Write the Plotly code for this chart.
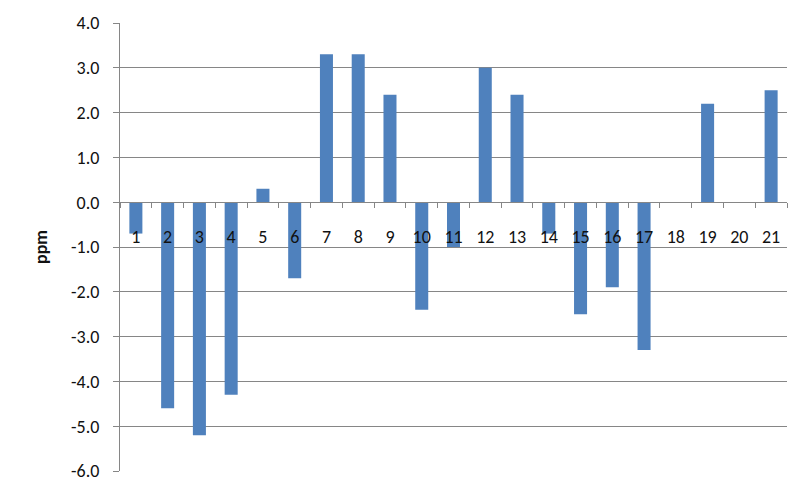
import plotly.graph_objects as go

# sample numbers and their deviation in ppm
samples = [str(i) for i in range(1, 22)]
ppm = [-0.7, -4.6, -5.2, -4.3, 0.3, -1.7, 3.3, 3.3, 2.4, -2.4, -1.0,
       3.0, 2.4, -0.7, -2.5, -1.9, -3.3, 0.0, 2.2, 0.0, 2.5]

y_ticks = [-6, -5, -4, -3, -2, -1, 0, 1, 2, 3, 4]
y_min, y_max = -6, 4

grid = '#868686'
font = 'Carlito, Lato, sans-serif'

fig = go.Figure(go.Bar(
    x=samples,
    y=ppm,
    marker=dict(color='#4F81BD', line=dict(width=0)),
))

fig.update_layout(
    width=812,
    height=495,
    margin=dict(l=120, r=25, t=23, b=24),
    plot_bgcolor='white',
    paper_bgcolor='white',
    showlegend=False,
    bargap=0.59,
    font=dict(family=font, size=18, color='#111111'),
    xaxis=dict(
        type='category',
        anchor='free',
        # axis crosses at y = 0
        position=(0 - y_min) / (y_max - y_min),
        automargin=False,
        showline=True,
        linecolor=grid,
        linewidth=1,
        ticks='outside',
        tickson='boundaries',
        ticklen=5,
        tickcolor=grid,
        ticklabelstandoff=18,
        showgrid=False,
        zeroline=False,
    ),
    yaxis=dict(
        range=[y_min, y_max],
        tickvals=y_ticks,
        # plain hyphen for negatives, as in the original
        ticktext=[f'{v:.1f}' for v in y_ticks],
        automargin=False,
        showline=True,
        linecolor=grid,
        ticks='outside',
        ticklen=6,
        tickcolor=grid,
        ticklabelstandoff=10,
        showgrid=True,
        gridcolor=grid,
        zeroline=False,
        title=dict(text='<b>ppm</b>', font=dict(size=18), standoff=18),
    ),
)

# drop the default page margin so the figure sits at the window corner
fig.write_html('out.html', config={'displayModeBar': False},
               post_script="document.body.style.margin='0';")
